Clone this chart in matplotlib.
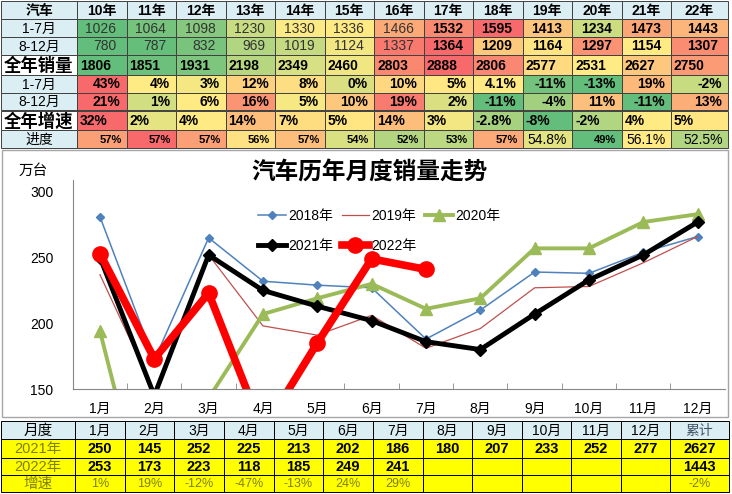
import numpy as np
import matplotlib.pyplot as plt
from matplotlib.patches import Rectangle
from matplotlib.colors import LinearSegmentedColormap, TwoSlopeNorm

plt.rcParams['font.family'] = ['Liberation Sans', 'Noto Sans CJK SC']

# ---- top table data ----
years = ['10年', '11年', '12年', '13年', '14年', '15年', '16年',
         '17年', '18年', '19年', '20年', '21年', '22年']
jan_jul = [1026, 1064, 1098, 1230, 1330, 1336, 1466, 1532, 1595, 1413, 1234, 1473, 1443]
aug_dec = [780, 787, 832, 969, 1019, 1124, 1337, 1364, 1209, 1164, 1297, 1154, 1307]
full_year = [1806, 1851, 1931, 2198, 2349, 2460, 2803, 2888, 2806, 2577, 2531, 2627, 2750]
g_jan_jul = [43, 4, 3, 12, 8, 0, 10, 5, 4.1, -11, -13, 19, -2]
g_aug_dec = [21, 1, 6, 16, 5, 10, 19, 2, -11, -4, 11, -11, 13]
g_full = [32, 2, 4, 14, 7, 5, 14, 3, -2.8, -8, -2, 4, 5]
progress = [56.9, 57.5, 56.9, 56.2, 56.6, 54.3, 52.6, 53.0, 56.8, 54.8, 48.8, 56.1, 52.5]
progress_labels = ['57%', '57%', '57%', '56%', '57%', '54%', '52%', '53%',
                   '57%', '54.8%', '49%', '56.1%', '52.5%']

# ---- chart data ----
months = ['1月', '2月', '3月', '4月', '5月', '6月', '7月', '8月', '9月', '10月', '11月', '12月']
sales_2018 = [281, 172, 265, 232, 229, 227, 188, 210, 239, 238, 254, 266]
sales_2019 = [237, 148, 252, 198, 191, 206, 181, 196, 227, 228, 246, 266]
sales_2020 = [194, 31, 143, 207, 219, 230, 211, 219, 257, 257, 277, 283]
sales_2021 = [250, 145, 252, 225, 213, 202, 186, 180, 207, 233, 252, 277]
sales_2022 = [253, 173, 223, 118, 185, 249, 241]

# ---- bottom table data ----
growth_labels = ['1%', '19%', '-12%', '-47%', '-13%', '24%', '29%']
total_2021 = 2627
total_2022 = 1443
total_growth = '-2%'

W, H = 732, 494
fig = plt.figure(figsize=(W / 100, H / 100), dpi=100)
bg = fig.add_axes([0, 0, 1, 1])
bg.set_xlim(0, W)
bg.set_ylim(H, 0)
bg.axis('off')

LIGHT = '#DAEEF3'
cmap = LinearSegmentedColormap.from_list('rg', ['#63BE7B', '#FFEB84', '#F8696B'])


def scale_colors(vals):
    v = np.array(vals, dtype=float)
    norm = TwoSlopeNorm(vcenter=np.median(v), vmin=v.min(), vmax=v.max())
    return [cmap(norm(x)) for x in v]


def cell(x0, x1, y0, y1, text, fc, ha='center', color='black', weight='normal',
         size=9, pad=4, ec='#404040'):
    bg.add_patch(Rectangle((x0, y0), x1 - x0, y1 - y0, facecolor=fc,
                           edgecolor=ec, lw=0.7))
    if ha == 'center':
        tx = (x0 + x1) / 2
    elif ha == 'right':
        tx = x1 - pad
    else:
        tx = x0 + pad
    bg.text(tx, (y0 + y1) / 2 + 0.5, text, ha=ha, va='center', color=color,
            fontweight=weight, fontsize=size)


def pct(v):
    return ('%g' % v) + '%'


# top table
cx = [1, 77, 126.5, 176, 225.5, 275, 324.5, 374, 423.5, 473, 522.5, 572, 621.5, 671, 728]
ry = [1, 19.5, 37, 55, 75, 93, 110.5, 130, 148]

cell(cx[0], cx[1], ry[0], ry[1], '汽车', LIGHT, weight='bold', size=10)
for i, y in enumerate(years):
    cell(cx[i + 1], cx[i + 2], ry[0], ry[1], y, LIGHT, weight='bold', size=10)

row_labels = [('1-7月', LIGHT, 'normal', 10), ('8-12月', LIGHT, 'normal', 10),
              ('全年销量', 'white', 'bold', 12.5), ('1-7月', LIGHT, 'normal', 10),
              ('8-12月', LIGHT, 'normal', 10), ('全年增速', 'white', 'bold', 12.5),
              ('进度', LIGHT, 'normal', 10)]
for r, (lab, fc, wt, sz) in enumerate(row_labels):
    cell(cx[0], cx[1], ry[r + 1], ry[r + 2], lab, fc, weight=wt, size=sz)

rows = [
    (jan_jul, [str(v) for v in jan_jul], 'right', 10),
    (aug_dec, [str(v) for v in aug_dec], 'right', 10),
    (full_year, [str(v) for v in full_year], 'left', 3),
    (g_jan_jul, [pct(v) for v in g_jan_jul], 'right', 6),
    (g_aug_dec, [pct(v) for v in g_aug_dec], 'right', 6),
    (g_full, [pct(v) for v in g_full], 'left', 3),
    (progress, progress_labels, 'right', 5),
]
for r, (vals, labs, ha, pad) in enumerate(rows):
    cols = scale_colors(vals)
    for i in range(len(years)):
        if r < 2:
            wt = 'normal' if i < 7 else 'bold'
            col = '#333333' if i < 7 else 'black'
            sz = 10
        elif r == 6:
            wt = 'bold' if '.' not in labs[i] else 'normal'
            sz = 8 if '.' not in labs[i] else 10
            col = 'black'
        else:
            wt, col, sz = 'bold', 'black', 10
        cell(cx[i + 1], cx[i + 2], ry[r + 1], ry[r + 2], labs[i], cols[i],
             ha=ha, color=col, weight=wt, size=sz, pad=pad)

# chart frame
bg.add_patch(Rectangle((2, 150), 726, 267, facecolor='white', edgecolor='#A6A6A6', lw=1))
bg.text(370, 173, '汽车历年月度销量走势', ha='center', va='center', fontsize=17,
        fontweight='bold')
bg.text(33, 171, '万台', ha='center', va='center', fontsize=10.5)

# line chart
ax = fig.add_axes([72.8 / W, (H - 389) / H, 652 / W, 209 / H])
ax.patch.set_visible(False)
x = np.arange(len(months))
ax.plot(x, sales_2018, color='#4F81BD', lw=1.1, marker='D', ms=4.5, label='2018年')
ax.plot(x, sales_2019, color='#C0504D', lw=0.9, label='2019年')
ax.plot(x, sales_2020, color='#9BBB59', lw=2.8, marker='^', ms=8, label='2020年')
ax.plot(x, sales_2021, color='black', lw=3.5, marker='D', ms=6, label='2021年')
ax.plot(np.arange(len(sales_2022)), sales_2022, color='#FF0000', lw=5.5, marker='o',
        ms=11, label='2022年')
ax.set_xlim(-0.5, len(months) - 0.5)
ax.set_ylim(150, 309)
ax.set_yticks([150, 200, 250, 300])
ax.set_xticks(x)
ax.set_xticklabels(months)
ax.set_xticks(np.arange(0.5, len(months) - 0.5, 1), minor=True)
ax.tick_params(axis='x', which='major', length=0, pad=9, labelsize=10)
ax.tick_params(axis='x', which='minor', direction='in', length=4, color='#868686')
ax.tick_params(axis='y', length=0, pad=14, labelsize=10)
for s in ['top', 'right']:
    ax.spines[s].set_visible(False)
for s in ['left', 'bottom']:
    ax.spines[s].set_color('#868686')

h, l = ax.get_legend_handles_labels()
order = [0, 3, 1, 4, 2]
ax.legend([h[i] for i in order], [l[i] for i in order], ncol=3, frameon=False,
          loc='upper left', bbox_to_anchor=(0.274, 0.895), fontsize=10,
          handlelength=2.0, handletextpad=0.15, columnspacing=0.6,
          labelspacing=1.15, borderpad=0)

# bottom table
bx = [1, 75, 124.5, 174, 224, 273.5, 323, 373, 422.5, 472, 521.5, 571, 621, 670, 729]
by = [421, 439, 457.5, 475, 492]
OLIVE = '#7F7F00'
YEL = '#FFFF00'
cell(bx[0], bx[1], by[0], by[1], '月度', LIGHT, size=10.5, ec='black')
cell(bx[0], bx[1], by[1], by[2], '2021年', YEL, size=10.5, color=OLIVE, ec='black')
cell(bx[0], bx[1], by[2], by[3], '2022年', YEL, size=10.5, color=OLIVE, ec='black')
cell(bx[0], bx[1], by[3], by[4], '增速', YEL, size=10.5, color=OLIVE, ec='black')
for i, m in enumerate(months):
    cell(bx[i + 1], bx[i + 2], by[0], by[1], m, LIGHT, size=10, ec='black')
    cell(bx[i + 1], bx[i + 2], by[1], by[2], str(sales_2021[i]), YEL,
         weight='bold', size=10.5, ec='black')
    t22 = str(sales_2022[i]) if i < len(sales_2022) else ''
    cell(bx[i + 1], bx[i + 2], by[2], by[3], t22, YEL, weight='bold', size=10.5, ec='black')
    tg = growth_labels[i] if i < len(growth_labels) else ''
    cell(bx[i + 1], bx[i + 2], by[3], by[4], tg, YEL, size=9, color=OLIVE, ec='black')
cell(bx[13], bx[14], by[0], by[1], '累计', LIGHT, size=10, color='#44546A', ec='black')
cell(bx[13], bx[14], by[1], by[2], str(total_2021), YEL, weight='bold', size=10.5, ec='black')
cell(bx[13], bx[14], by[2], by[3], str(total_2022), YEL, weight='bold', size=10.5, ec='black')
cell(bx[13], bx[14], by[3], by[4], total_growth, YEL, size=9, color=OLIVE, ec='black')

fig.savefig('out.png', dpi=100)
